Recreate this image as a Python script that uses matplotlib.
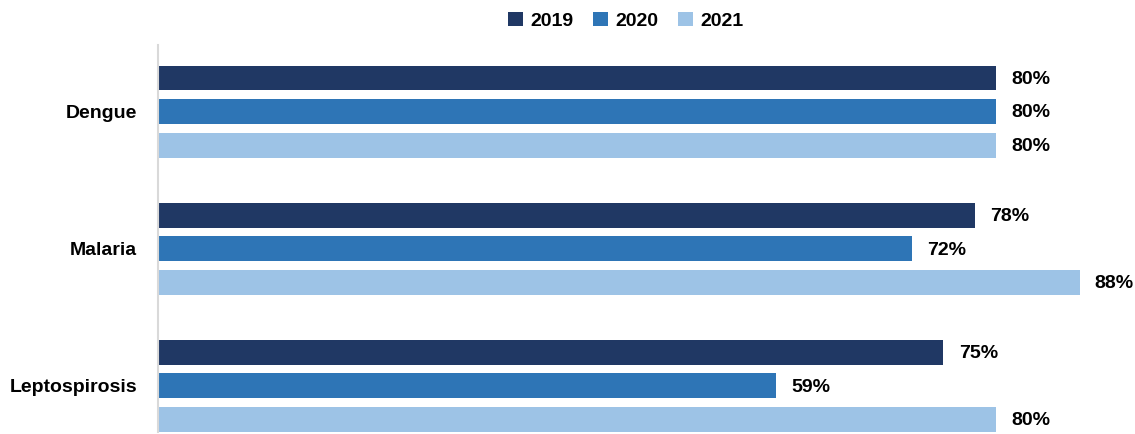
import matplotlib
matplotlib.use("Agg")
import matplotlib.pyplot as plt
import numpy as np

# data
diseases = ["Dengue", "Malaria", "Leptospirosis"]
years = ["2019", "2020", "2021"]
v2019 = [80, 78, 75]
v2020 = [80, 72, 59]
v2021 = [80, 88, 80]
colors = ["#203864", "#2E75B6", "#9DC3E6"]

plt.rcParams['font.family'] = ['Liberation Sans', 'DejaVu Sans']
plt.rcParams['font.weight'] = 'bold'

fig = plt.figure(figsize=(11.35, 4.34), dpi=100)
ax = fig.add_axes([158 / 1135, 2 / 434, 1 - 158 / 1135, 387 / 434])

y = np.arange(len(diseases))
step = 0.2445
h = 0.182
series = [v2019, v2020, v2021]
for i, (vals, yr, c) in enumerate(zip(series, years, colors)):
    pos = y + (i - 1) * step
    bars = ax.barh(pos, vals, height=h, color=c, label=yr)
    for b, v in zip(bars, vals):
        ax.annotate(f"{v}%", (v, b.get_y() + b.get_height() / 2),
                    xytext=(11, -1), textcoords="offset points",
                    ha="left", va="center", fontsize=14, fontweight="bold")

ax.set_xlim(0, 93.3)
ax.set_ylim(2.336, -0.485)
ax.set_yticks(y)
ax.set_yticklabels(diseases, fontsize=14, fontweight="bold")
ax.tick_params(axis="y", length=0, pad=15)
ax.set_xticks([])
for s in ["top", "right", "bottom"]:
    ax.spines[s].set_visible(False)
ax.spines["left"].set_color("#D9D9D9")
ax.spines["left"].set_linewidth(1.5)

fig.legend(loc="center", bbox_to_anchor=(626 / 1135, 1 - 21 / 434), ncol=3,
           frameon=False, fontsize=14, handlelength=0.75, handleheight=0.75,
           handletextpad=0.4, columnspacing=1.0)

fig.savefig("out.png", dpi=100)
